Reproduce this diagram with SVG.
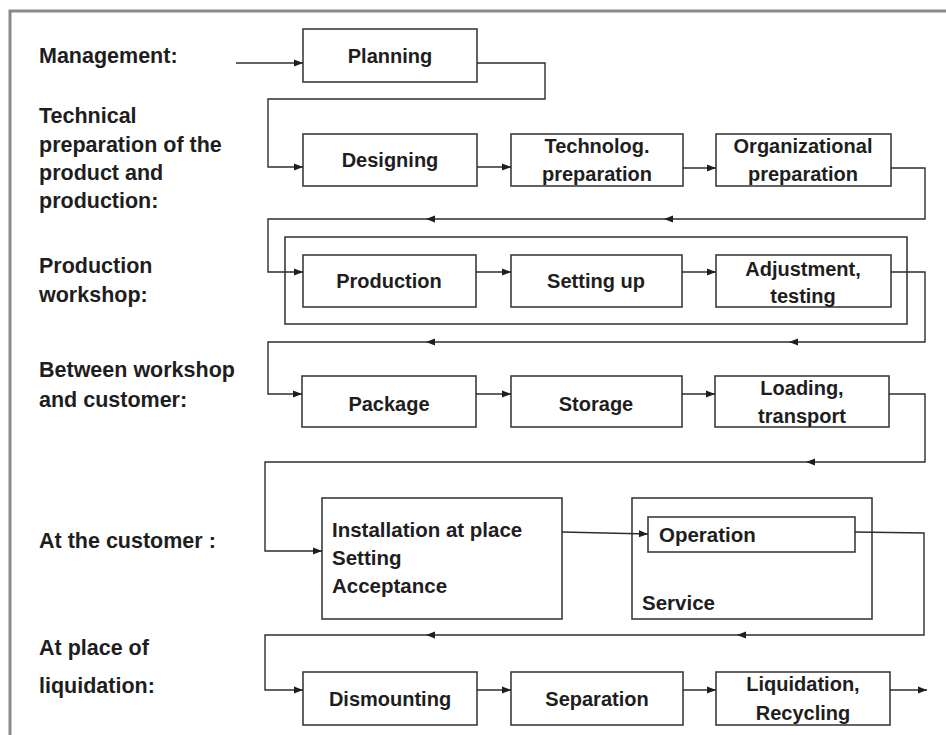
<svg xmlns="http://www.w3.org/2000/svg" xmlns:xlink="http://www.w3.org/1999/xlink" width="946" height="735" viewBox="0 0 946 735">
<style>
.lbl{font-family:"Liberation Sans",Arial,sans-serif;font-weight:bold;font-size:21.5px;fill:#1e1e1e}
.bt{font-family:"Liberation Sans",Arial,sans-serif;font-weight:bold;font-size:20px;fill:#1e1e1e;text-anchor:middle}
.bl{font-family:"Liberation Sans",Arial,sans-serif;font-weight:bold;font-size:20.5px;fill:#1e1e1e}
.box{fill:#fff;stroke:#3c3c3c;stroke-width:1.6}
.frame{fill:none;stroke:#3c3c3c;stroke-width:1.6}
.con{fill:none;stroke:#2e2e2e;stroke-width:1.4}
.ah{fill:#1e1e1e}
</style>
<defs>
<marker id="arr" markerUnits="userSpaceOnUse" markerWidth="10" markerHeight="8" refX="9" refY="4" orient="auto">
<path d="M0,0.5 L9,4 L0,7.5 z" fill="#1e1e1e"/>
</marker>
<path id="al" d="M0,0 L9,-3.5 L9,3.5 z"/>
</defs>
<rect width="946" height="735" fill="#fff"/>
<path d="M10,735 V11 H946" fill="none" stroke="#8a8a8a" stroke-width="3"/>

<g id="labels">
<text class="lbl" x="39" y="63">Management:</text>
<text class="lbl" x="39" y="123">Technical</text>
<text class="lbl" x="39" y="152">preparation of the</text>
<text class="lbl" x="39" y="180">product and</text>
<text class="lbl" x="39" y="208">production:</text>
<text class="lbl" x="39" y="273">Production</text>
<text class="lbl" x="39" y="302">workshop:</text>
<text class="lbl" x="39" y="377">Between workshop</text>
<text class="lbl" x="39" y="407">and customer:</text>
<text class="lbl" x="39" y="548">At the customer :</text>
<text class="lbl" x="39" y="655">At place of</text>
<text class="lbl" x="39" y="693">liquidation:</text>
</g>

<g id="production-frame"><rect class="frame" x="285" y="237" width="622" height="87"/></g>

<g id="planning"><rect class="box" x="303" y="29" width="174" height="53"/><text class="bt" x="390" y="63">Planning</text></g>
<g id="designing"><rect class="box" x="303" y="134" width="174" height="52"/><text class="bt" x="390" y="167">Designing</text></g>
<g id="technolog"><rect class="box" x="511" y="134" width="172" height="52"/><text class="bt" x="597" y="153">Technolog.</text><text class="bt" x="597" y="181">preparation</text></g>
<g id="organizational"><rect class="box" x="716" y="134" width="175" height="52"/><text class="bt" x="803" y="153">Organizational</text><text class="bt" x="803" y="181">preparation</text></g>

<g id="production"><rect class="box" x="303" y="255" width="173" height="52"/><text class="bt" x="389" y="288">Production</text></g>
<g id="setting-up"><rect class="box" x="511" y="255" width="171" height="52"/><text class="bt" x="596" y="288">Setting up</text></g>
<g id="adjustment"><rect class="box" x="716" y="255" width="175" height="52"/><text class="bt" x="803" y="276">Adjustment,</text><text class="bt" x="803" y="303">testing</text></g>

<g id="package"><rect class="box" x="302" y="376" width="174" height="51"/><text class="bt" x="389" y="411">Package</text></g>
<g id="storage"><rect class="box" x="511" y="376" width="171" height="51"/><text class="bt" x="596" y="411">Storage</text></g>
<g id="loading"><rect class="box" x="715" y="376" width="174" height="51"/><text class="bt" x="802" y="395">Loading,</text><text class="bt" x="802" y="423">transport</text></g>

<g id="installation"><rect class="box" x="322" y="498" width="240" height="121"/>
<text class="bl" x="332" y="537">Installation at place</text>
<text class="bl" x="332" y="565">Setting</text>
<text class="bl" x="332" y="593">Acceptance</text></g>
<g id="service"><rect class="frame" x="632" y="498" width="240" height="121"/><text class="bl" x="642" y="610">Service</text></g>
<g id="operation"><rect class="box" x="648" y="517" width="207" height="35"/><text class="bl" x="659" y="542">Operation</text></g>

<g id="dismounting"><rect class="box" x="303" y="672" width="174" height="53"/><text class="bt" x="390" y="706">Dismounting</text></g>
<g id="separation"><rect class="box" x="511" y="672" width="172" height="53"/><text class="bt" x="597" y="706">Separation</text></g>
<g id="liquidation"><rect class="box" x="716" y="672" width="174" height="53"/><text class="bt" x="803" y="691">Liquidation,</text><text class="bt" x="803" y="720">Recycling</text></g>

<g id="connectors">
<path class="con" d="M236,63 H303" marker-end="url(#arr)"/>
<path class="con" d="M477,63 H545 V99 H268 V167 H303" marker-end="url(#arr)"/>
<path class="con" d="M477,167 H511" marker-end="url(#arr)"/>
<path class="con" d="M683,168 H716" marker-end="url(#arr)"/>
<path class="con" d="M891,168 H925 V219 H268 V272 H303" marker-end="url(#arr)"/>
<use href="#al" xlink:href="#al" class="ah" x="664" y="219"/>
<use href="#al" xlink:href="#al" class="ah" x="426" y="219"/>
<path class="con" d="M476,272 H511" marker-end="url(#arr)"/>
<path class="con" d="M682,272 H716" marker-end="url(#arr)"/>
<path class="con" d="M891,272 H925 V342 H268 V394 H302" marker-end="url(#arr)"/>
<use href="#al" xlink:href="#al" class="ah" x="789" y="342"/>
<use href="#al" xlink:href="#al" class="ah" x="426" y="342"/>
<path class="con" d="M476,394 H511" marker-end="url(#arr)"/>
<path class="con" d="M682,394 H715" marker-end="url(#arr)"/>
<path class="con" d="M889,394 H925 V462 H265 V551 H322" marker-end="url(#arr)"/>
<use href="#al" xlink:href="#al" class="ah" x="806" y="462"/>
<path class="con" d="M562,532 L648,534" marker-end="url(#arr)"/>
<path class="con" d="M855,532 L924,533 V635 H265 V690 H303" marker-end="url(#arr)"/>
<use href="#al" xlink:href="#al" class="ah" x="737" y="635"/>
<use href="#al" xlink:href="#al" class="ah" x="426" y="635"/>
<path class="con" d="M477,690 H511" marker-end="url(#arr)"/>
<path class="con" d="M683,690 H716" marker-end="url(#arr)"/>
<path class="con" d="M890,690 H927" marker-end="url(#arr)"/>
</g>
</svg>
